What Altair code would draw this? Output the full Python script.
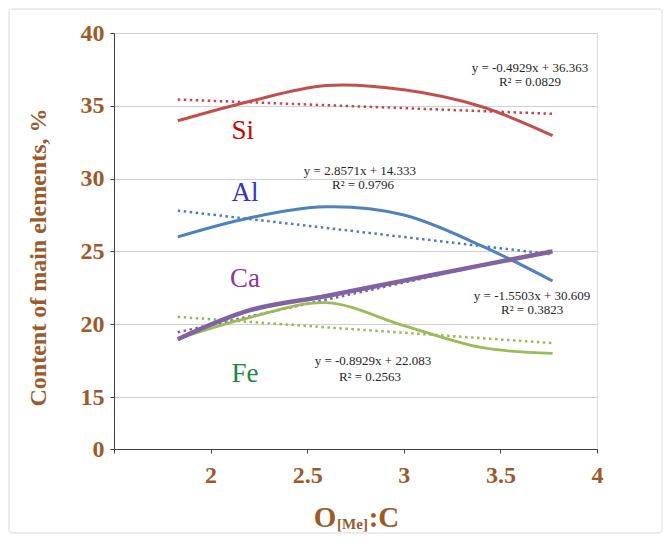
import altair as alt
import pandas as pd

# ---- data ----
elements = ["Si", "Al", "Ca", "Fe"]
x_pts = [1.83, 2.2, 2.6, 3.0, 3.4, 3.77]
si = [33.97, 35.3, 36.39, 36.1, 34.95, 32.95]
al = [26.0, 27.3, 28.06, 27.5, 25.4, 22.97]
ca = [18.97, 20.95, 21.94, 22.99, 24.04, 25.0]
fe = [19.0, 20.45, 21.48, 19.9, 18.4, 18.0]

trend_x = [1.83, 3.77]
trend_start = [35.43, 27.8, 19.45, 20.5]
trend_end = [34.45, 24.8, 25.1, 18.7]

eq_lines = ["y = -0.4929x + 36.363", "R² = 0.0829",
            "y = 2.8571x + 14.333", "R² = 0.9796",
            "y = -1.5503x + 30.609", "R² = 0.3823",
            "y = -0.8929x + 22.083", "R² = 0.2563"]
eq_x = [3.653, 3.653, 2.773, 2.789, 3.664, 3.664, 2.84, 2.825]
eq_y = [37.6, 36.63, 30.52, 29.56, 21.94, 20.98, 17.47, 16.37]

label_x = [2.166, 2.178, 2.178, 2.178]
label_y = [33.29, 28.99, 23.12, 16.6]

curve_colors = ["#C0504D", "#4F81BD", "#8064A2", "#9BBB59"]
trend_colors = ["#BE4B48", "#4A7EBB", "#7D60A0", "#98B954"]
label_colors = ["#CC0000", "#3333BB", "#8E3A98", "#1E8A3A"]
curve_widths = [3, 3, 4.5, 2.8]

y_ticks = [0, 15, 20, 25, 30, 35, 40]
x_ticks = [1.5, 2, 2.5, 3, 3.5, 4]

BROWN = "#9B5A2C"
SERIF = "Liberation Serif"
W, H = 483, 416

series = {"Si": si, "Al": al, "Ca": ca, "Fe": fe}

x_enc = alt.X("x:Q",
              scale=alt.Scale(domain=[1.5, 4], nice=False, zero=False),
              axis=alt.Axis(values=x_ticks, grid=False, title=None,
                            labelExpr="datum.value == 1.5 ? '' : format(datum.value, '~g')",
                            labelFont=SERIF, labelFontWeight="bold", labelFontSize=24,
                            labelColor=BROWN, labelPadding=10, tickSize=4,
                            labelFlush=False, labelOverlap=False,
                            domainColor="#404040", tickColor="#404040"))
y_enc = alt.Y("y:Q",
              scale=alt.Scale(domain=[0, 15, 40], range=[H, 364, 0], nice=False, zero=False),
              axis=alt.Axis(values=y_ticks, format="d", grid=True, gridColor="#D0D0D0",
                            title="Content of main elements, %",
                            titleFont=SERIF, titleFontWeight="bold", titleFontSize=24,
                            titleColor=BROWN, titleX=-76, titleY=224, titleAngle=270,
                            titleAlign="center", titleBaseline="middle",
                            labelFont=SERIF, labelFontWeight="bold", labelFontSize=24,
                            labelColor=BROWN, labelPadding=6, tickSize=4,
                            labelFlush=False, labelOverlap=False,
                            domainColor="#404040", tickColor="#404040"))

layers = []

# outer border
border = alt.Chart(pd.DataFrame({"a": [0]})).mark_rect(
    fill="transparent", stroke="#D9D9D9", strokeWidth=1, cornerRadius=3
).encode(x=alt.value(-105), x2=alt.value(548), y=alt.value(-24), y2=alt.value(500))
layers.append(border)

# trend lines
for i, el in enumerate(elements):
    df = pd.DataFrame({"x": trend_x, "y": [trend_start[i], trend_end[i]]})
    layers.append(alt.Chart(df).mark_line(
        color=trend_colors[i], strokeWidth=2.5, strokeDash=[2.5, 3.5]
    ).encode(x=x_enc, y=y_enc))

# smoothed data curves
for i, el in enumerate(["Si", "Al", "Fe", "Ca"]):
    k = elements.index(el)
    df = pd.DataFrame({"x": x_pts, "y": series[el]})
    layers.append(alt.Chart(df).mark_line(
        color=curve_colors[k], strokeWidth=curve_widths[k], interpolate="catmull-rom"
    ).encode(x=x_enc, y=y_enc))

# element labels
lab_df = pd.DataFrame({"x": label_x, "y": label_y, "t": elements, "c": label_colors})
layers.append(alt.Chart(lab_df).mark_text(
    font=SERIF, fontSize=27, align="center", baseline="middle"
).encode(x=x_enc, y=y_enc, text="t:N",
         color=alt.Color("c:N", scale=None)))

# equations
eq_df = pd.DataFrame({"x": eq_x, "y": eq_y, "t": eq_lines})
layers.append(alt.Chart(eq_df).mark_text(
    font=SERIF, fontSize=13, align="center", baseline="middle", color="#262626"
).encode(x=x_enc, y=y_enc, text="t:N"))

# x-axis title O[Me]:C with subscript
title_parts = ["O", "[Me]", ":C"]
title_sizes = [29, 15, 29]
title_xpos = [211, 238.5, 270]
title_ypos = [494, 496, 494]
for t, s, px, py in zip(title_parts, title_sizes, title_xpos, title_ypos):
    layers.append(alt.Chart(pd.DataFrame({"t": [t]})).mark_text(
        font=SERIF, fontSize=s, fontWeight="bold", color=BROWN,
        align="center", baseline="alphabetic"
    ).encode(x=alt.value(px), y=alt.value(py), text="t:N"))

chart = alt.layer(*layers).properties(
    width=W, height=H,
    padding={"left": 106, "top": 25, "right": 66, "bottom": 85},
    autosize="none"
).configure_view(stroke=None).configure(background="white")

chart.save("out.html", embed_options={"renderer": "svg", "actions": False})
